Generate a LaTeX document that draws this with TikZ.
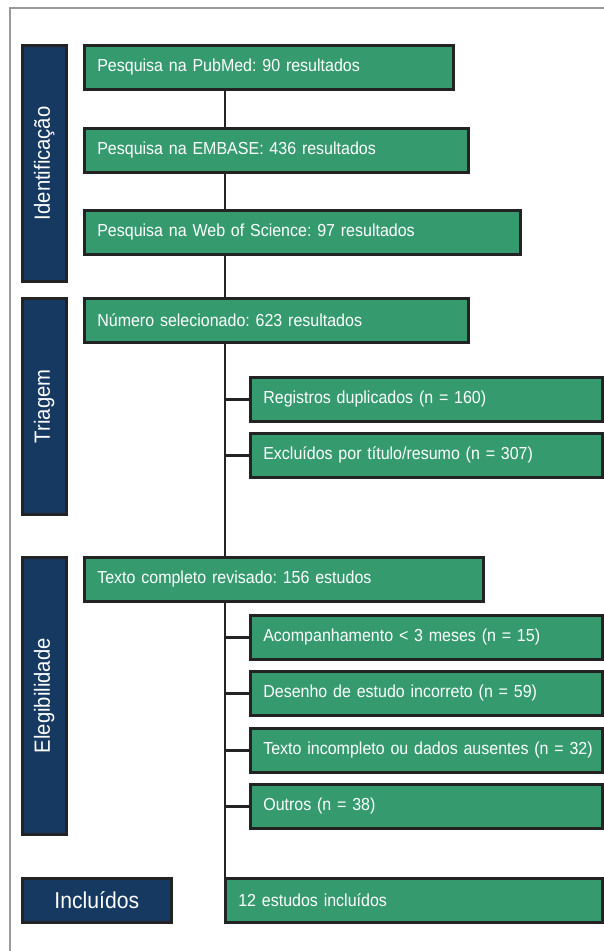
\documentclass[tikz,border=0pt]{standalone}
\usepackage{fontspec}
\setmainfont[FakeStretch=0.92]{Liberation Sans}
\usepackage{xcolor}
\usepackage{tikz}
\usetikzlibrary{positioning,calc}
\definecolor{boxgreen}{HTML}{359B6E}
\definecolor{navy}{HTML}{163962}
\definecolor{edge}{HTML}{232323}
\definecolor{framegray}{HTML}{9A9A9A}
\frenchspacing

\begin{document}
\begin{tikzpicture}[
  x=1pt, y=-1pt,
  font=\fontsize{17.4}{20}\selectfont,
  gbox/.style={draw=edge, line width=2.6pt, fill=boxgreen, text=white,
    anchor=north west, minimum height=44pt, inner xsep=13pt, align=left},
  phase/.style={draw=edge, line width=2.6pt, fill=navy, text=white,
    anchor=north west, minimum width=44pt, inner sep=0pt},
  phaselabel/.style={rotate=90, text=white, font=\fontsize{22}{26}\selectfont},
  link/.style={draw=edge, line width=2.4pt},
]
\useasboundingbox (0,0) rectangle (604,951);
\draw[framegray, line width=1.6pt] (10,951) -- (10,8) -- (604,8);

% phase bars
\node[phase, minimum height=236pt] (ident) at (21,44) {};
\node[phaselabel] at (ident.center) {Identificação};
\node[phase, minimum height=216pt] (triag) at (21,297) {};
\node[phaselabel] at (triag.center) {Triagem};
\node[phase, minimum height=277pt] (elig) at (21,556) {};
\node[phaselabel] at (elig.center) {Elegibilidade};
\node[phase, minimum width=149pt, minimum height=44pt,
  font=\fontsize{23}{26}\selectfont] (incl) at (21,877) {Incluídos};

% identification
\node[gbox, text width=343pt] (pubmed) at (83,44) {Pesquisa na PubMed: 90 resultados};
\node[gbox, text width=358pt] (embase) at (83,127) {Pesquisa na EMBASE: 436 resultados};
\node[gbox, text width=410pt] (wos) at (83,209) {Pesquisa na Web of Science: 97 resultados};

% screening
\node[gbox, text width=358pt] (selec) at (83,297) {Número selecionado: 623 resultados};
\node[gbox, text width=326pt] (dup) at (249,376) {Registros duplicados (n = 160)};
\node[gbox, text width=326pt] (excl) at (249,432) {Excluídos por título/resumo (n = 307)};

% eligibility
\node[gbox, text width=373pt] (full) at (83,556) {Texto completo revisado: 156 estudos};
\node[gbox, text width=326pt] (seg) at (249,614) {Acompanhamento < 3 meses (n = 15)};
\node[gbox, text width=326pt] (desenho) at (249,670) {Desenho de estudo incorreto (n = 59)};
\node[gbox, text width=326pt] (incomp) at (249,727) {\mbox{Texto incompleto ou dados ausentes (n = 32)}};
\node[gbox, text width=326pt] (outros) at (249,783) {Outros (n = 38)};

% included
\node[gbox, text width=351pt] (final) at (224,877) {12 estudos incluídos};

\coordinate (spine) at (225,0);
\draw[link] (spine |- pubmed.south) -- (spine |- embase.north);
\draw[link] (spine |- embase.south) -- (spine |- wos.north);
\draw[link] (spine |- wos.south) -- (spine |- selec.north);
\draw[link] (spine |- selec.south) -- (spine |- full.north);
\draw[link] (spine |- dup.west) -- (dup.west);
\draw[link] (spine |- excl.west) -- (excl.west);
\draw[link] (spine |- full.south) -- (spine |- final.north);
\draw[link] (spine |- seg.west) -- (seg.west);
\draw[link] (spine |- desenho.west) -- (desenho.west);
\draw[link] (spine |- incomp.west) -- (incomp.west);
\draw[link] (spine |- outros.west) -- (outros.west);
\end{tikzpicture}
\end{document}
